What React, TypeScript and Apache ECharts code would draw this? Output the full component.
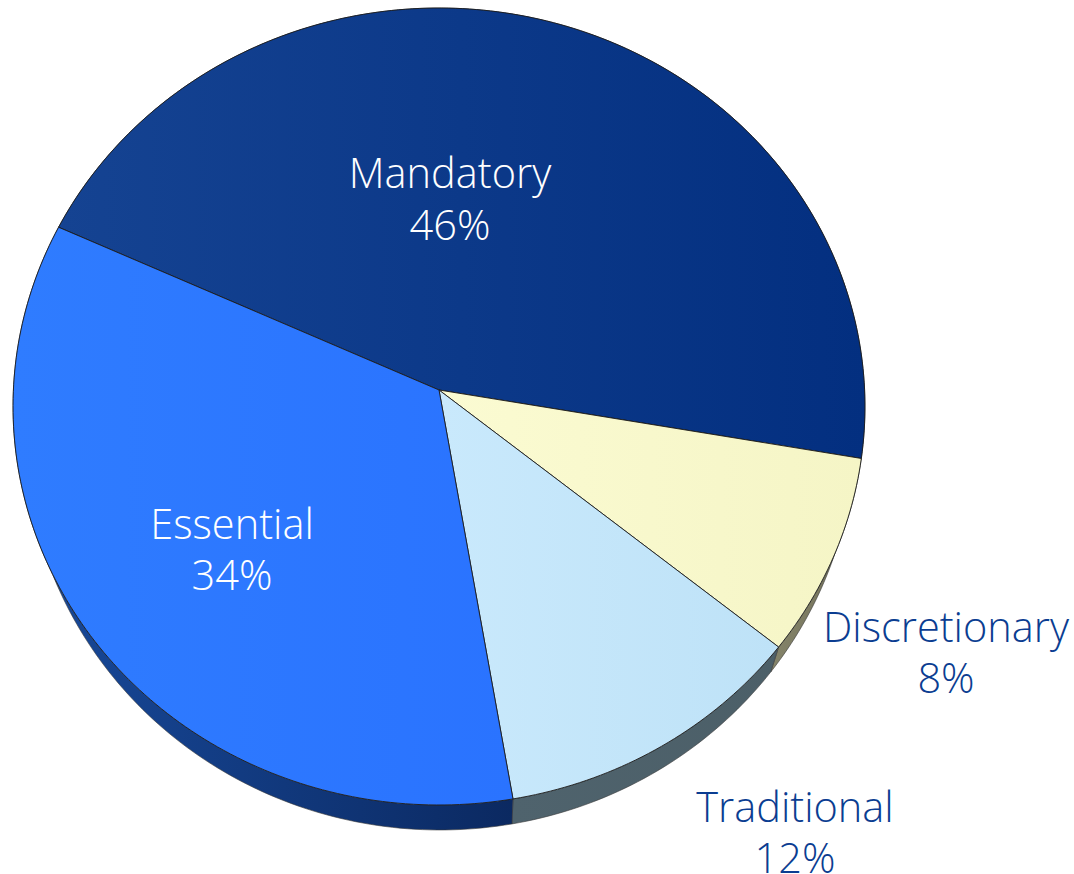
import React, { useEffect, useRef } from "react";
import * as echarts from "echarts";

const categories = ["Mandatory", "Discretionary", "Traditional", "Essential"];
// Slice sizes; the printed labels are rounded.
const shares = [45.9, 8.1, 11.5, 34.5];
const percentLabels = ["46%", "8%", "12%", "34%"];

const topFrom = ["#154392", "#fbfbd2", "#c9e9fc", "#2f7cff"];
const topTo = ["#032f80", "#f5f5c6", "#bee2f7", "#2a73ff"];
const wallFrom = ["#0b3a8a", "#85846a", "#4f636d", "#184a9c"];
const wallTo = ["#0b3a8a", "#6f6e58", "#4c5f68", "#0b2961"];
const textColors = ["#ffffff", "#0b3d91", "#0b3d91", "#ffffff"];

// Where each slice's caption sits (name line, percentage line).
const captionLayout = [
  { x: 450, y: 172, py: 224 },
  { x: 946, y: 626, py: 677 },
  { x: 795, y: 806, py: 857 },
  { x: 232, y: 523, py: 574 },
];

// Perspective view of a round, tilted pie.
const CX = 439;
const CY = 390;
const RX = 425.6;
const RY = 397.8;
const TILT = 0.0414;
const START_DEG = 294.6;
const DEPTH = 25;
const FONT = '"Open Sans", sans-serif';

function project(deg: number): [number, number] {
  const a = (deg * Math.PI) / 180;
  const u = Math.sin(a);
  const v = -Math.cos(a);
  const w = 1 - TILT * v;
  return [CX + (RX * u) / w, CY + (RY * v) / w];
}

function lowered(p: [number, number]): [number, number] {
  return [p[0] - 0.026 * (p[0] - 475), p[1] + DEPTH];
}

function arc(from: number, to: number): [number, number][] {
  const n = Math.max(2, Math.ceil(to - from));
  const pts: [number, number][] = [];
  for (let i = 0; i <= n; i++) pts.push(project(from + ((to - from) * i) / n));
  return pts;
}

function sliceRange(idx: number): [number, number] {
  const total = shares.reduce((s, v) => s + v, 0);
  let before = 0;
  for (let i = 0; i < idx; i++) before += shares[i];
  const from = START_DEG + (before / total) * 360;
  return [from, from + (shares[idx] / total) * 360];
}

function grad(a: string, b: string, vertical = false) {
  return new echarts.graphic.LinearGradient(0, 0, vertical ? 0 : 1, vertical ? 1 : 0, [
    { offset: 0, color: a },
    { offset: 1, color: b },
  ]);
}

export default function App() {
  const ref = useRef<HTMLDivElement>(null);
  useEffect(() => {
    document.body.style.margin = "0";
    document.body.style.background = "#ffffff";
    const chart = echarts.init(ref.current!, undefined, { renderer: "svg" });
    const rows = categories.map((name, i) => ({ name, value: shares[i] }));
    chart.setOption({
      animation: false,
      backgroundColor: "#ffffff",
      series: [
        {
          type: "custom",
          coordinateSystem: "none",
          silent: true,
          z: 1,
          data: rows,
          renderItem: (params: any) => {
            const i = params.dataIndex;
            const [from, to] = sliceRange(i);
            const top = arc(from, to);
            const bottom = top.map(lowered).reverse();
            return {
              type: "polygon",
              shape: { points: [...top, ...bottom] },
              style: {
                fill: grad(wallFrom[i], wallTo[i]),
                stroke: "#3a3a3a",
                lineWidth: 0.6,
              },
            };
          },
        },
        {
          type: "custom",
          coordinateSystem: "none",
          silent: true,
          z: 2,
          data: rows,
          renderItem: (params: any) => {
            const i = params.dataIndex;
            const [from, to] = sliceRange(i);
            const c = captionLayout[i];
            const textStyle = {
              fill: textColors[i],
              font: `300 41.5px ${FONT}`,
              align: "center",
              verticalAlign: "middle",
            };
            return {
              type: "group",
              children: [
                {
                  type: "polygon",
                  shape: { points: [[CX, CY], ...arc(from, to)] },
                  style: {
                    fill: grad(topFrom[i], topTo[i]),
                    stroke: "#1c1c1c",
                    lineWidth: 0.9,
                    lineJoin: "round",
                  },
                },
                {
                  type: "text",
                  x: c.x,
                  y: c.y,
                  z2: 5,
                  style: { ...textStyle, text: categories[i] },
                },
                {
                  type: "text",
                  x: c.x,
                  y: c.py,
                  z2: 5,
                  style: { ...textStyle, text: percentLabels[i] },
                },
              ],
            };
          },
        },
      ],
    });
    return () => chart.dispose();
  }, []);
  return <div ref={ref} style={{ width: 1074, height: 874 }} />;
}
